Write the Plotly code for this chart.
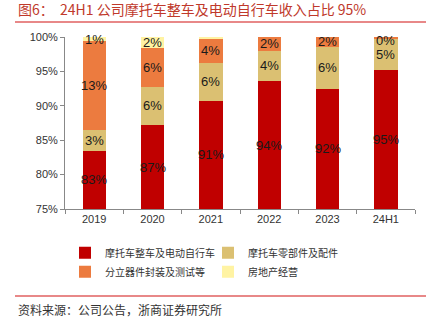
import plotly.graph_objects as go

categories = ["2019", "2020", "2021", "2022", "2023", "24H1"]
motor = [83.5, 87.2, 90.7, 93.6, 92.45, 95.2]
parts = [3.0, 5.6, 5.56, 4.4, 6.15, 4.6]
semi = [12.9, 5.55, 3.5, 2.0, 1.4, 0.2]
realty = [0.6, 1.65, 0.24, 0.0, 0.0, 0.0]

motor_lbl = ["83%", "87%", "91%", "94%", "92%", "95%"]
parts_lbl = ["3%", "6%", "6%", "4%", "6%", "5%"]
semi_lbl = ["13%", "6%", "4%", "2%", "2%", "0%"]
realty_lbl = ["1%", "2%", None, None, None, None]

names = ["摩托车整车及电动自行车", "摩托车零部件及配件", "分立器件封装及测试等", "房地产经营"]
colors = ["#C00000", "#DBC072", "#EC7B3F", "#FFF3A3"]
series = [motor, parts, semi, realty]
labels = [motor_lbl, parts_lbl, semi_lbl, realty_lbl]

YMIN, YMAX = 75, 100
fig = go.Figure()
for name, col, vals in zip(names, colors, series):
    fig.add_trace(go.Bar(x=categories, y=vals, name=name, marker=dict(color=col, line=dict(width=0)),
                         width=0.4))

ann = []
base = [0.0] * len(categories)
for si, (vals, lbls) in enumerate(zip(series, labels)):
    for i, (v, l) in enumerate(zip(vals, lbls)):
        lo = max(base[i], YMIN)
        hi = base[i] + v
        if l is not None:
            shift = -3 if (si == 2 and categories[i] == "24H1") else 0
            ann.append(dict(x=i, y=(lo + hi) / 2, text=l, showarrow=False,
                            xref="x", yref="y", yshift=shift,
                            font=dict(family="Liberation Sans, Arial", size=13, color="#1a1a1a")))
        base[i] = hi

FONT_CJK = "Noto Sans CJK SC"
ann.append(dict(xref="paper", yref="paper", x=-0.14, y=1.16, xanchor="left", yanchor="middle",
                text="图6：  24H1 公司摩托车整车及电动自行车收入占比 95%", showarrow=False,
                font=dict(family=FONT_CJK, size=14, color="#C0392B")))
ann.append(dict(xref="paper", yref="paper", x=-0.14, y=-0.587, xanchor="left", yanchor="middle",
                text="资料来源：公司公告，浙商证券研究所", showarrow=False,
                font=dict(family=FONT_CJK, size=12, color="#333333")))

shapes = [
    dict(type="line", xref="paper", yref="paper", x0=-0.1429, x1=1.04, y0=1.087, y1=1.087,
         line=dict(color="#E06060", width=1.5)),
    dict(type="line", xref="paper", yref="paper", x0=-0.1429, x1=1.04, y0=-0.506, y1=-0.506,
         line=dict(color="#E06060", width=1.5)),
]

fig.update_layout(
    barmode="stack",
    width=426, height=326,
    margin=dict(l=65, r=11, t=37, b=117),
    paper_bgcolor="white", plot_bgcolor="white",
    showlegend=True,
    legend=dict(orientation="h", x=0.0, y=-0.17, xanchor="left", yanchor="top",
                entrywidth=98, itemwidth=30, traceorder="normal",
                font=dict(family=FONT_CJK, size=10, color="#333333"),
                tracegroupgap=0, itemclick=False),
    annotations=ann,
    shapes=shapes,
    font=dict(family="Liberation Sans, Arial", size=11, color="#333333"),
)
fig.update_xaxes(type="category", range=[-0.5, len(categories) - 0.5], showline=True, linecolor="#888888",
                 linewidth=1, ticks="outside", ticklen=4,
                 tickcolor="#888888", tickson="boundaries", showgrid=False,
                 tickfont=dict(family="Liberation Sans, Arial", size=11, color="#333333"))
fig.update_yaxes(range=[YMIN, YMAX], showline=True, linecolor="#888888", linewidth=1,
                 ticks="outside", ticklen=4, tickcolor="#888888", showgrid=False,
                 tickvals=[75, 80, 85, 90, 95, 100], ticktext=["75%", "80%", "85%", "90%", "95%", "100%"],
                 tickfont=dict(family="Liberation Sans, Arial", size=11, color="#333333"),
                 zeroline=False)

fig.write_html("out.html")
